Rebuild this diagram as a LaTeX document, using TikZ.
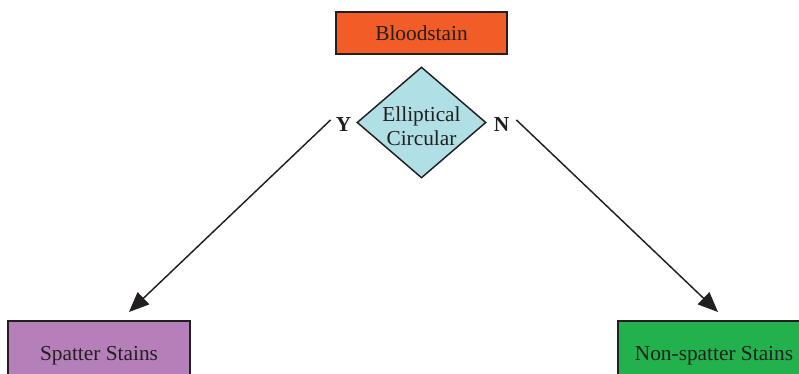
\documentclass[tikz,border=0pt]{standalone}
\usepackage{fontspec}
\setmainfont{Liberation Serif}
\usepackage{tikz}
\usetikzlibrary{arrows.meta,shapes.geometric,calc}
\definecolor{inkgray}{RGB}{35,31,32}
\definecolor{stainorange}{RGB}{241,92,39}
\definecolor{stainblue}{RGB}{176,223,229}
\definecolor{stainpurple}{RGB}{181,128,186}
\definecolor{staingreen}{RGB}{34,177,76}

\begin{document}
\begin{tikzpicture}[x=0.75pt,y=-0.75pt,
  every node/.style={text=inkgray,font=\fontsize{16}{19}\selectfont},
  box/.style={draw=inkgray,line width=1.2pt,rectangle,inner sep=0pt},
  test/.style={diamond,draw=inkgray,line width=1.1pt,fill=stainblue,inner sep=0pt,
    minimum width=96.75pt,minimum height=83.25pt},
  answer/.style={font=\fontsize{16}{19}\selectfont\bfseries,inner sep=1.5pt},
  link/.style={draw=inkgray,line width=1.1pt,-{Triangle[length=15pt,width=12.5pt]}}]
\useasboundingbox (0,0) rectangle (799,374);
\clip (0,0) rectangle (799,374);
% boxes
\node[box,fill=stainorange,minimum width=128.25pt,minimum height=31.5pt] (blood) at (421.5,33) {Bloodstain};
\node[test,label={[align=center,inner sep=0pt,yshift=-2.5pt]center:Elliptical\\[-1pt]Circular}] (shape) at (421.5,122.5) {};
\node[box,fill=stainpurple,minimum width=136.5pt,minimum height=52.5pt] (spatter) at (99,356) {Spatter Stains};
\node[box,fill=staingreen,minimum width=144pt,minimum height=52.5pt] (nonspatter) at (714,356) {Non-spatter Stains};
% answers
\node[answer] (yes) at (343.5,125) {Y};
\node[answer] (no) at (501.5,125) {N};
\coordinate (ytip) at (129,312);
\coordinate (ntip) at (718,312);
% arrows
\draw[link] ($(yes.west)+(-3,-5)$) -- (ytip);
\draw[link] ($(no.east)+(5,-5)$) -- (ntip);
\end{tikzpicture}
\end{document}
